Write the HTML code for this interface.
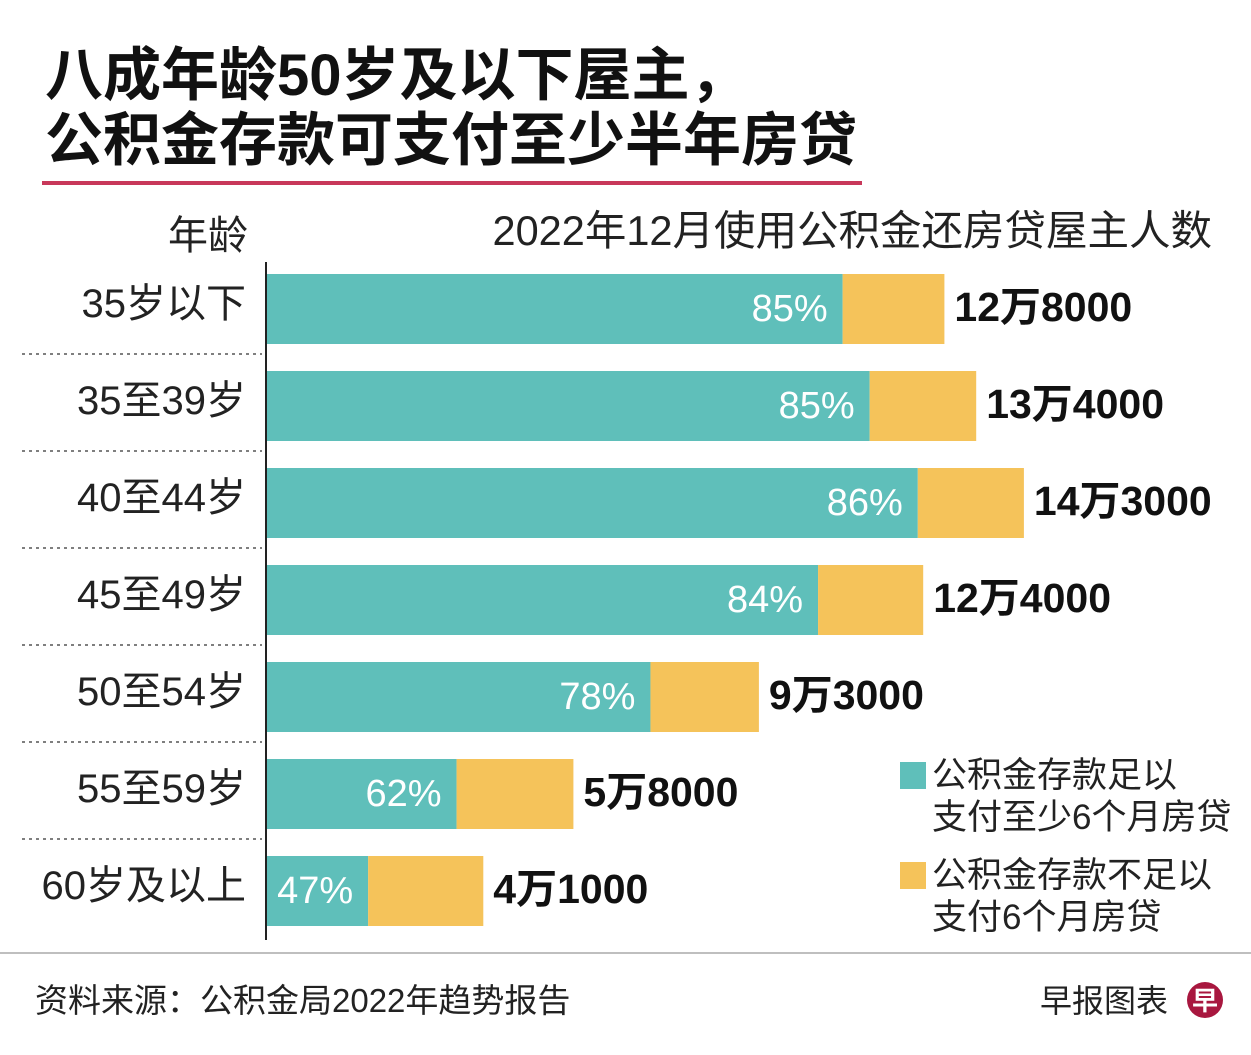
<!DOCTYPE html>
<html><head><meta charset="utf-8">
<style>
body{margin:0;background:#fff;}
svg{display:block;font-family:"Liberation Sans","Noto Sans CJK SC",sans-serif;}
</style></head>
<body>
<svg id="chart" width="1251" height="1055" viewBox="0 0 1251 1055">
<text x="45" y="95" font-size="58" font-weight="bold" fill="#111">八成年龄50岁及以下屋主，</text>
<text x="45" y="160" font-size="58" font-weight="bold" fill="#111">公积金存款可支付至少半年房贷</text>
<rect x="42" y="181" width="820" height="4" fill="#c8385a"/>
<text x="248" y="249" font-size="40" text-anchor="end" fill="#222">年龄</text>
<text x="1212" y="245" font-size="41.5" text-anchor="end" fill="#222">2022年12月使用公积金还房贷屋主人数</text>
<line x1="266" y1="262" x2="266" y2="940" stroke="#222" stroke-width="2"/>
<g id="bars"></g>
<rect x="900" y="762" width="26" height="27" fill="#5fbfba"/>
<text x="932" y="787" font-size="35" fill="#222"><tspan x="932">公积金存款足以</tspan><tspan x="932" dy="42">支付至少6个月房贷</tspan></text>
<rect x="900" y="862" width="26" height="27" fill="#f5c35a"/>
<text x="932" y="887" font-size="35" fill="#222"><tspan x="932">公积金存款不足以</tspan><tspan x="932" dy="42">支付6个月房贷</tspan></text>
<line x1="0" y1="953" x2="1251" y2="953" stroke="#aaa" stroke-width="1.5"/>
<text x="35" y="1012" font-size="33" fill="#222">资料来源：公积金局2022年趋势报告</text>
<text x="1168" y="1012" font-size="32" text-anchor="end" fill="#222">早报图表</text>
<circle cx="1205" cy="1000" r="18" fill="#a8173f"/>
<text x="1205" y="1010" font-size="26" font-weight="bold" text-anchor="middle" fill="#fff">早</text>
</svg>
<script>
const categories = ["35岁以下","35至39岁","40至44岁","45至49岁","50至54岁","55至59岁","60岁及以上"];
const totals = [128000,134000,143000,124000,93000,58000,41000];
const totalLabels = ["12万8000","13万4000","14万3000","12万4000","9万3000","5万8000","4万1000"];
const sufficientPct = [85,85,86,84,78,62,47];

const NS="http://www.w3.org/2000/svg";
const g=document.getElementById('bars');
const x0=266, k=0.0053;
const xScale=v=>x0+v*k;
const rowY=i=>274+i*97;
function mk(tag,attrs){const e=document.createElementNS(NS,tag);for(const a in attrs)e.setAttribute(a,attrs[a]);g.appendChild(e);return e;}
categories.forEach((c,i)=>{
  const y=rowY(i), h=70;
  const xt=xScale(totals[i]), xs=xScale(totals[i]*sufficientPct[i]/100);
  const lab=mk('text',{x:246,y:y+43,'font-size':40,'text-anchor':'end',fill:'#222'});
  lab.textContent=c;
  
  
  if(i>0){
    const l=mk('line',{x1:22,y1:y-17,x2:262,y2:y-17,stroke:'#555','stroke-width':1.5,'stroke-dasharray':'3,4'});
    
    
  }
  const b1=mk('rect',{x:x0+1,y:y,width:xs-x0-1,height:h,fill:'#5fbfba'});
  
  
  const b2=mk('rect',{x:xs,y:y,width:xt-xs,height:h,fill:'#f5c35a'});
  
  
  const p=mk('text',{x:xs-15,y:y+47,'font-size':38,'text-anchor':'end',fill:'#fff'});
  p.textContent=sufficientPct[i]+'%';
  
  
  const v=mk('text',{x:xt+10,y:y+47,'font-size':41,'font-weight':'bold',fill:'#111'});
  v.textContent=totalLabels[i];
  
  
});
</script>
</body></html>
